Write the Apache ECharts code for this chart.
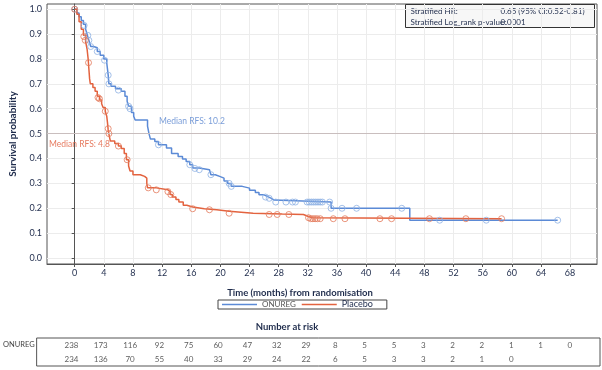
<!DOCTYPE html>
<html><head><meta charset="utf-8">
<script src="https://cdn.jsdelivr.net/npm/echarts@6/dist/echarts.min.js"></script>
<style>html,body{margin:0;padding:0;background:#fff}#c{width:602px;height:370px}</style>
</head><body><div id="c"></div>
<script>
// ---------- data ----------
const xTicks = [0,4,8,12,16,20,24,28,32,36,40,44,48,52,56,60,64,68];
const yTicks = [0,0.1,0.2,0.3,0.4,0.5,0.6,0.7,0.8,0.9,1.0];
const seriesNames = ['ONUREG','Placebo'];

const onuregCurve = [[0,1],[0.3,0.985],[0.6,0.97],[0.9,0.955],[1.2,0.94],[1.5,0.92],[1.7,0.9],[1.85,0.885],[2.0,0.87],[2.2,0.85],[2.6,0.845],[3.1,0.83],[3.5,0.815],[4.0,0.8],[4.4,0.785],[4.5,0.76],[4.6,0.735],[4.7,0.7],[5.0,0.69],[5.6,0.68],[6.4,0.67],[6.9,0.65],[7.2,0.63],[7.4,0.61],[7.8,0.585],[8.1,0.57],[8.3,0.555],[10.0,0.53],[10.2,0.5],[10.4,0.478],[11.0,0.468],[11.5,0.455],[12.6,0.442],[13.3,0.42],[14.2,0.408],[14.8,0.398],[15.3,0.388],[15.8,0.375],[16.2,0.362],[17.1,0.355],[18.5,0.348],[18.7,0.335],[19.3,0.328],[19.9,0.321],[20.5,0.31],[21.0,0.3],[21.5,0.288],[23.0,0.281],[24.0,0.272],[24.8,0.263],[25.3,0.254],[26.0,0.247],[26.5,0.24],[27.0,0.233],[27.4,0.225],[35.2,0.2],[46.0,0.152],[66.3,0.152]];
const placeboCurve = [[0,1],[0.3,0.98],[0.6,0.95],[0.9,0.92],[1.2,0.895],[1.5,0.87],[1.7,0.84],[1.85,0.8],[1.95,0.76],[2.05,0.72],[2.15,0.7],[2.5,0.685],[2.8,0.67],[3.1,0.65],[3.4,0.635],[3.7,0.62],[3.9,0.605],[4.2,0.59],[4.4,0.57],[4.5,0.545],[4.6,0.515],[4.75,0.49],[4.9,0.47],[5.5,0.46],[6.0,0.45],[6.4,0.44],[6.8,0.42],[7.1,0.395],[7.4,0.37],[7.6,0.35],[8.0,0.335],[9.0,0.328],[9.6,0.321],[9.9,0.3],[10.0,0.282],[11.2,0.274],[12.8,0.267],[13.1,0.255],[13.4,0.245],[13.9,0.235],[14.3,0.225],[14.9,0.212],[15.4,0.205],[16.2,0.198],[17.8,0.194],[19.5,0.188],[21.2,0.18],[24.5,0.177],[28.5,0.175],[31.4,0.168],[32.0,0.162],[32.6,0.158],[58.6,0.158]];

const onuregCensor = [[0,1],[1.3,0.935],[1.8,0.895],[1.95,0.875],[2.2,0.85],[3.1,0.83],[4.1,0.795],[4.6,0.735],[4.7,0.7],[6.0,0.675],[7.4,0.61],[7.6,0.6],[11.5,0.455],[15.8,0.375],[16.5,0.36],[17.1,0.355],[18.7,0.335],[21.2,0.3],[21.5,0.288],[26.2,0.245],[26.7,0.24],[27.6,0.225],[29.0,0.225],[29.9,0.225],[30.3,0.225],[31.9,0.225],[32.2,0.225],[32.5,0.225],[32.8,0.225],[33.1,0.225],[33.4,0.225],[33.7,0.225],[34.0,0.225],[35.0,0.225],[35.2,0.2],[36.7,0.2],[38.7,0.2],[44.9,0.2],[50.1,0.152],[56.5,0.152],[66.3,0.152]];
const placeboCensor = [[0,1],[1.25,0.89],[1.45,0.875],[1.9,0.785],[3.2,0.645],[3.4,0.64],[4.2,0.59],[4.6,0.52],[4.7,0.5],[6.0,0.45],[7.2,0.395],[10.1,0.282],[11.2,0.274],[12.8,0.267],[13.2,0.255],[16.2,0.198],[18.5,0.194],[21.2,0.18],[26.7,0.175],[27.8,0.175],[29.4,0.175],[32.1,0.162],[32.4,0.158],[32.7,0.158],[33.0,0.158],[33.3,0.158],[33.7,0.158],[35.5,0.158],[37.1,0.158],[41.9,0.158],[43.5,0.158],[48.7,0.158],[53.7,0.158],[58.6,0.158]];

const medianText = ['Median RFS: 10.2','Median RFS: 4.8'];
const medianAnchor = [[11.5,0.549],[-3.6,0.457]];
const refLine = 0.5;

const riskTimes = [0,4,8,12,16,20,24,28,32,36,40,44,48,52,56,60,64,68];
const onuregRisk = [238,173,116,92,75,60,47,32,29,8,5,5,3,2,2,1,1,0];
const placeboRisk = [234,136,70,55,40,33,29,24,22,6,5,3,3,2,1,0];

const statsLabels = ['Stratified HR:','Stratified Log_rank p-value:'];
const statsValues = ['0.65 (95% CI:0.52-0.81)','0.0001'];

// ---------- layout / style ----------
const FONT = 'Lato, "Open Sans", sans-serif';
const BLUE = '#5b8ad6', RED = '#e3633f';
const BLUE_C = '#8fb1e4', RED_C = '#e37b5c';
const NAVY = '#1f2c4c';
const plotL = 43, plotR = 597, plotT = 4, plotB = 264;
const xMin = -3.8, xMax = 71.7;
const pxPerMonth = (plotR - plotL) / (xMax - xMin);
const riskL = 36, riskR = 600;
const riskMin = xMin + (riskL - plotL) / pxPerMonth;
const riskMax = xMax + (riskR - plotR) / pxPerMonth;

const riskData = [];
onuregRisk.forEach((n,i)=>riskData.push([riskTimes[i],'ONUREG',n]));
placeboRisk.forEach((n,i)=>riskData.push([riskTimes[i],'Placebo',n]));

const boxText = (txt, x, y) => ({type:'text', x:x, y:y,
  style:{text:txt, fontSize:8, fill:NAVY, fontFamily:FONT, align:'left', verticalAlign:'top'}});

const chart = echarts.init(document.getElementById('c'), null, {renderer:'canvas'});
chart.setOption({
  animation:false,
  textStyle:{fontFamily:FONT},
  grid:[
    {left:plotL, right:602-plotR, top:plotT, bottom:370-plotB, show:true, borderColor:'#555', borderWidth:1, containLabel:false},
    {left:riskL, right:602-riskR, top:338, height:28, show:true, borderColor:'#555', borderWidth:1}
  ],
  xAxis:[
    {gridIndex:0, type:'value', min:xMin, max:xMax,
     axisLine:{show:true, onZero:false, lineStyle:{color:'#555'}},
     axisTick:{show:true, customValues:xTicks, length:3, lineStyle:{color:'#555'}},
     axisLabel:{customValues:xTicks, fontSize:9, color:NAVY, margin:5, fontFamily:FONT},
     splitLine:{show:true, lineStyle:{color:'#ececec'}}},
    {gridIndex:1, type:'value', min:riskMin, max:riskMax, show:false}
  ],
  yAxis:[
    {gridIndex:0, type:'value', min:-0.024, max:1.021,
     axisLine:{show:true, lineStyle:{color:'#555'}},
     axisTick:{show:true, customValues:yTicks, length:3, lineStyle:{color:'#555'}},
     axisLabel:{customValues:yTicks, formatter:v=>v.toFixed(1), fontSize:9, color:NAVY, margin:5, fontFamily:FONT},
     splitLine:{show:true, lineStyle:{color:'#ececec'}},
     name:'Survival probability', nameLocation:'middle', nameGap:29,
     nameTextStyle:{fontWeight:'bold', fontSize:10, color:NAVY, fontFamily:FONT}},
    {gridIndex:1, type:'category', data:seriesNames, inverse:true,
     axisLine:{show:false}, axisTick:{show:false}, splitLine:{show:false},
     axisLabel:{margin:2, formatter:v=> v==='ONUREG' ? '{a|'+v+'}' : '{b|'+v+'}',
       rich:{a:{fontSize:7.5, color:'#444', fontFamily:FONT}, b:{fontSize:9, color:'#111', fontFamily:FONT}}}}
  ],
  legend:{
    left:218, top:300, orient:'horizontal', icon:'rect', itemWidth:35, itemHeight:1.5, itemGap:6,
    padding:[0,14,0,4], borderColor:'#444', borderWidth:1,
    data:[{name:'ONUREG', textStyle:{fontSize:8, color:'#555', fontFamily:FONT}},
          {name:'Placebo', textStyle:{fontSize:9, color:NAVY, fontFamily:FONT}}]
  },
  title:[
    {text:'Time (months) from randomisation', left:295, top:283, textAlign:'center',
     textStyle:{fontSize:9.5, fontWeight:'bold', color:NAVY, fontFamily:FONT}},
    {text:'Number at risk', left:282, top:317, textAlign:'center',
     textStyle:{fontSize:9.5, fontWeight:'bold', color:NAVY, fontFamily:FONT}}
  ],
  graphic:[{type:'group', left:405, top:4, children:[
    {type:'rect', shape:{x:0,y:0,width:189,height:23}, style:{fill:'#f7f7f7', stroke:'#333', lineWidth:1}},
    boxText(statsLabels[0], 5, 3),
    boxText(statsValues[0], 95, 3),
    boxText(statsLabels[1], 5, 13.5),
    boxText(statsValues[1], 95, 13.5)
  ]}],
  series:[
    {name:'ONUREG', type:'line', step:'end', data:onuregCurve, symbol:'none', xAxisIndex:0, yAxisIndex:0,
     lineStyle:{color:BLUE, width:1.5}, itemStyle:{color:BLUE}, z:3,
     markLine:{silent:true, symbol:['none','none'], label:{show:false},
       lineStyle:{color:'#c9bebe', width:1, type:'solid'}, data:[{yAxis:refLine}]}},
    {name:'Placebo', type:'line', step:'end', data:placeboCurve, symbol:'none', xAxisIndex:0, yAxisIndex:0,
     lineStyle:{color:RED, width:1.5}, itemStyle:{color:RED}, z:4},
    {name:'ONUREG censored', type:'scatter', data:onuregCensor, symbol:'circle', symbolSize:6,
     itemStyle:{color:'rgba(0,0,0,0)', borderColor:BLUE_C, borderWidth:1}, z:5},
    {name:'Placebo censored', type:'scatter', data:placeboCensor, symbol:'circle', symbolSize:6,
     itemStyle:{color:'rgba(0,0,0,0)', borderColor:RED_C, borderWidth:1}, z:6},
    {name:'medians', type:'scatter', symbolSize:1, itemStyle:{color:'rgba(0,0,0,0)'}, z:7,
     data:medianText.map((t,i)=>({value:medianAnchor[i], name:t,
       label:{color: i===0 ? '#5a86d0' : '#e05a38'}})),
     label:{show:true, position:'right', distance:0, fontSize:8.5, fontFamily:FONT, formatter:p=>p.name}},
    {name:'risk', type:'scatter', xAxisIndex:1, yAxisIndex:1, symbolSize:1, itemStyle:{color:'rgba(0,0,0,0)'},
     data:riskData, label:{show:true, position:'inside', fontSize:8, color:'#333', fontFamily:FONT, formatter:p=>p.value[2]}}
  ]
});
</script></body></html>
